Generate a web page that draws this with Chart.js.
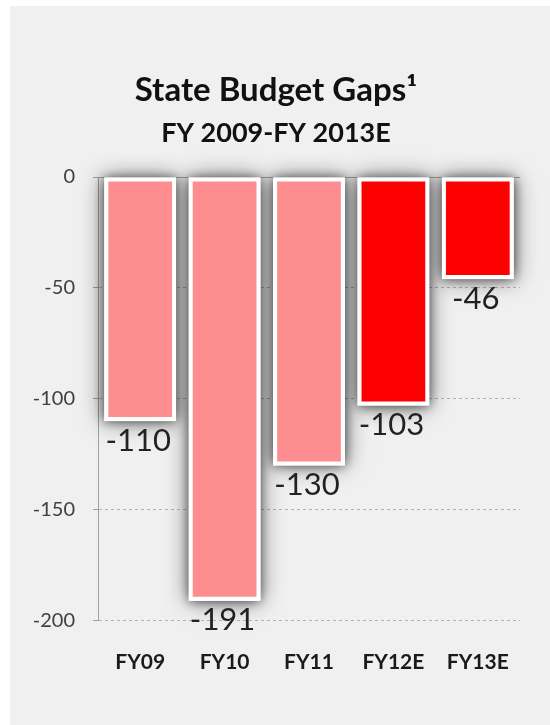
<!DOCTYPE html>
<html lang="en">
<head>
    <meta charset="UTF-8" />
    <title>State Budget Gaps</title>
    <script src="https://cdn.jsdelivr.net/npm/chart.js"></script>
    <style>
        body { margin: 0; background: #ffffff; }
        .panel {
            position: absolute;
            left: 10px;
            top: 6px;
            width: 540px;
            height: 719px;
            background: #f0f0f0;
        }
    </style>
</head>
<body>
    <div class="panel">
        <canvas id="chart" width="540" height="719"></canvas>
    </div>

    <script>
        // Budget gaps by fiscal year ($ billions), E = estimate
        const years = ['FY09', 'FY10', 'FY11', 'FY12E', 'FY13E'];
        const gaps = [-110, -191, -130, -103, -46];
        const yTicks = [0, -50, -100, -150, -200];

        const FONT = 'Lato, "Open Sans", sans-serif';

        // bars for estimated years are drawn in full red
        const barColors = years.map(y => y.endsWith('E') ? '#ff0000' : '#fd8d8f');

        // solid zero line and a soft grey shadow under each bar
        const barShadow = {
            id: 'barShadow',
            beforeDatasetsDraw(chart) {
                const { ctx, chartArea, scales } = chart;
                const y0 = scales.y.getPixelForValue(0);
                ctx.save();
                ctx.strokeStyle = '#a8a8a8';
                ctx.lineWidth = 1;
                ctx.beginPath();
                ctx.moveTo(chartArea.left, y0 + 0.5);
                ctx.lineTo(chartArea.right, y0 + 0.5);
                ctx.stroke();

                ctx.fillStyle = '#ffffff';
                ctx.shadowColor = 'rgba(0, 0, 0, 0.55)';
                // two passes: a wide soft glow, then a tighter darker one
                [22, 10].forEach(blur => {
                    ctx.shadowBlur = blur;
                    chart.getDatasetMeta(0).data.forEach(bar => {
                        const half = bar.width / 2;
                        ctx.fillRect(bar.x - half, bar.base, half * 2, bar.y - bar.base);
                    });
                });
                ctx.restore();
            }
        };

        // value printed just under the end of each bar
        const valueLabels = {
            id: 'valueLabels',
            afterDatasetsDraw(chart) {
                const { ctx } = chart;
                const meta = chart.getDatasetMeta(0);
                ctx.save();
                ctx.font = '31px ' + FONT;
                ctx.fillStyle = '#222222';
                ctx.textAlign = 'center';
                ctx.textBaseline = 'top';
                meta.data.forEach((bar, i) => {
                    ctx.fillText(String(gaps[i]), bar.x - 2, bar.y + 4);
                });
                ctx.restore();
            }
        };

        const ctx = document.getElementById('chart').getContext('2d');
        new Chart(ctx, {
            type: 'bar',
            data: {
                labels: years,
                datasets: [{
                    data: gaps,
                    backgroundColor: barColors,
                    borderColor: '#ffffff',
                    borderWidth: 4,
                    borderSkipped: false,
                    categoryPercentage: 1,
                    barPercentage: 0.85
                }]
            },
            plugins: [barShadow, valueLabels],
            options: {
                responsive: false,
                animation: false,
                layout: { padding: { left: 0, right: 8, top: 0, bottom: 29 } },
                plugins: {
                    legend: { display: false },
                    tooltip: { enabled: false },
                    title: {
                        display: true,
                        text: 'State Budget Gaps\u00b9',
                        color: '#111111',
                        font: { family: FONT, size: 33, weight: 'bold' },
                        padding: { top: 65, bottom: 0 }
                    },
                    subtitle: {
                        display: true,
                        text: 'FY 2009-FY 2013E',
                        color: '#111111',
                        font: { family: FONT, size: 27, weight: 'bold' },
                        padding: { top: 6, bottom: 28 }
                    }
                },
                scales: {
                    x: {
                        grid: { display: false },
                        border: { display: false },
                        ticks: {
                            color: '#1a1a1a',
                            padding: 21,
                            font: { family: FONT, size: 21, weight: 'bold' }
                        }
                    },
                    y: {
                        min: -200,
                        max: 0,
                        afterBuildTicks(scale) {
                            scale.ticks = yTicks.map(v => ({ value: v }));
                        },
                        afterFit(scale) {
                            scale.width = 88;
                        },
                        grid: {
                            color: '#b4b4b4',
                            tickLength: 5,
                            tickColor: '#a0a0a0'
                        },
                        border: { color: '#a0a0a0', dash: [3, 3] },
                        ticks: {
                            color: '#404040',
                            padding: 18,
                            font: { family: FONT, size: 20 }
                        }
                    },
                    // empty right-hand margin so the plot ends short of the panel edge
                    yRight: {
                        position: 'right',
                        min: -200,
                        max: 0,
                        grid: { display: false },
                        border: { display: false },
                        ticks: { display: false },
                        afterFit(scale) {
                            scale.width = 22;
                        }
                    }
                }
            }
        });
    </script>
</body>
</html>
